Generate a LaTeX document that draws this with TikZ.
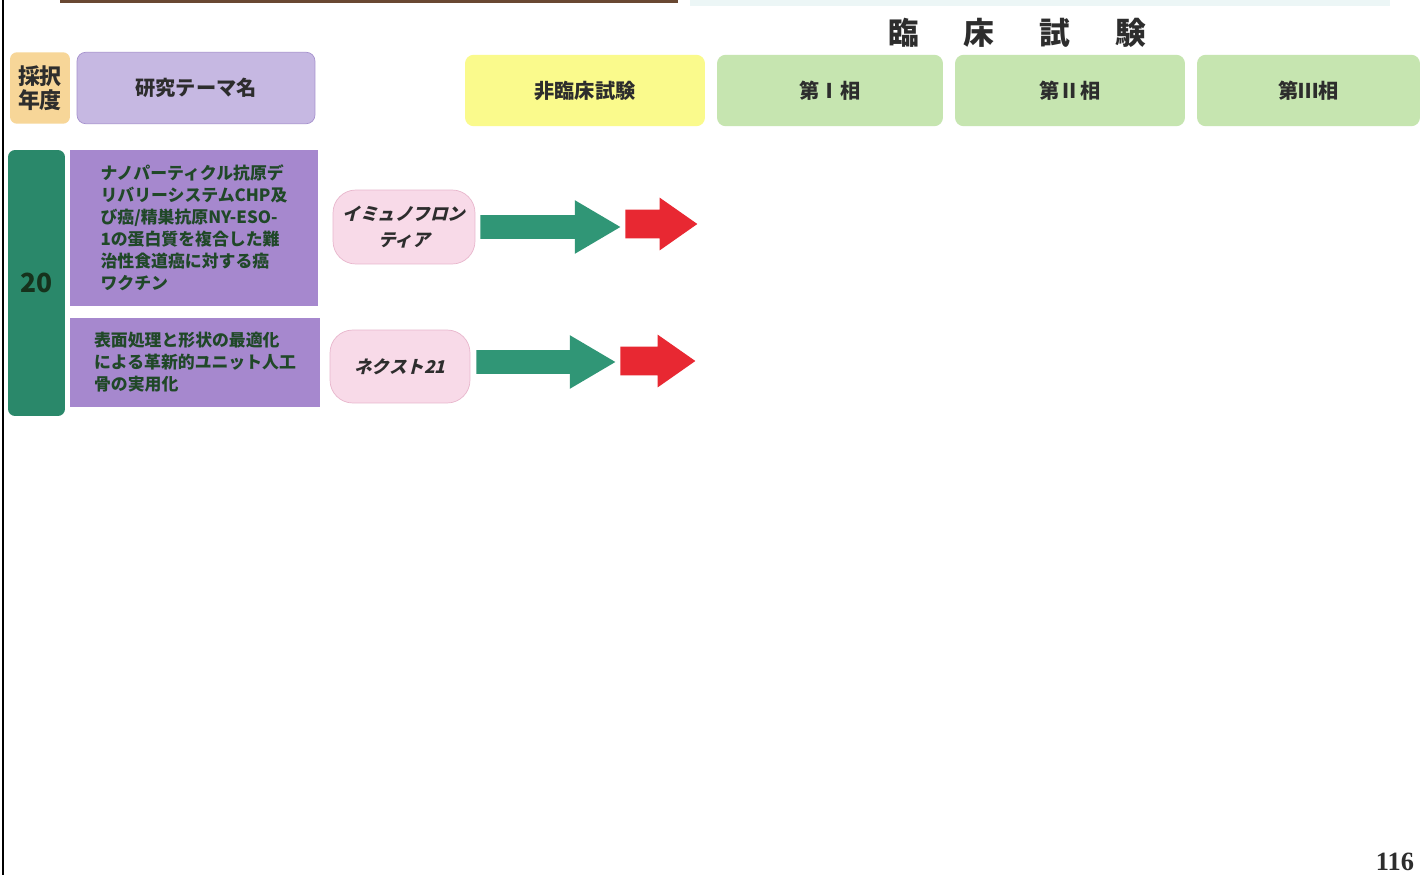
\documentclass[tikz,border=0pt]{standalone}
\usepackage{fontspec}
\setmainfont{Noto Sans CJK JP}
\newfontfamily\cofont{Noto Sans CJK JP}[FakeSlant=0.25, BoldFeatures={FakeSlant=0.25}]
\newfontfamily\pagefont{Liberation Serif}
\usetikzlibrary{shapes.arrows, positioning}
\definecolor{cYearHd}{RGB}{247,214,152}
\definecolor{cThemeHd}{RGB}{198,184,226}
\definecolor{cThemeHdLine}{RGB}{165,145,205}
\definecolor{cPre}{RGB}{250,250,140}
\definecolor{cPhase}{RGB}{198,229,176}
\definecolor{cYear}{RGB}{42,136,106}
\definecolor{cTheme}{RGB}{166,136,206}
\definecolor{cCo}{RGB}{248,218,232}
\definecolor{cCoLine}{RGB}{232,182,204}
\definecolor{cArrowG}{RGB}{48,150,118}
\definecolor{cArrowR}{RGB}{232,40,50}
\definecolor{cTxt}{RGB}{45,45,45}
\definecolor{cTxtG}{RGB}{32,72,40}
\definecolor{cBar}{RGB}{105,72,50}
\definecolor{cBand}{RGB}{236,246,246}
\tikzset{
	hdbox/.style   ={rectangle, rounded corners=5pt, minimum height=1.43cm, align=center, text=cTxt, font=\fontsize{11.5}{14}\selectfont\bfseries},
	themebox/.style={rectangle, fill=cTheme, align=left, text=cTxtG, font=\fontsize{9.6}{12.5}\selectfont\bfseries},
	cobox/.style   ={rectangle, rounded corners=13pt, fill=cCo, draw=cCoLine, align=center, text=cTxt, font=\cofont\fontsize{10}{14.5}\selectfont\bfseries},
	garrow/.style  ={single arrow, fill=cArrowG, inner xsep=0pt, inner ysep=0.23cm, minimum width=0pt, single arrow head extend=0.3cm, single arrow tip angle=61, anchor=west},
	rarrow/.style  ={single arrow, fill=cArrowR, inner xsep=0pt, inner ysep=0.28cm, minimum width=0pt, single arrow head extend=0.24cm, single arrow tip angle=70, anchor=west},
}
\begin{document}
\begin{tikzpicture}[x=0.02cm, y=-0.02cm]
	\useasboundingbox[fill=white] (0,0) rectangle (1423,875);
	\draw[black, line width=0.6pt] (3,0) -- (3,875);
	\fill[cBar] (60,0) rectangle (678,3);
	\fill[cBand] (690,0) rectangle (1390,6);

	\node[text=cTxt, font=\fontsize{17.5}{20}\selectfont\bfseries] (title) at (1017,33) {臨\hspace{0.9cm}床\hspace{0.9cm}試\hspace{0.9cm}験};

	\node[hdbox, fill=cYearHd, minimum width=1.2cm, rounded corners=4pt, font=\fontsize{12.5}{14}\selectfont\bfseries] (yearhd) at (40,88) {採択\\年度};
	\node[hdbox, fill=cThemeHd, draw=cThemeHdLine, minimum width=4.76cm] (themehd) at (196,88) {研究テーマ名};
	\node[hdbox, fill=cPre, minimum width=4.8cm] (pre) at (585,90.5) {非臨床試験};
	\node[hdbox, fill=cPhase, minimum width=4.52cm] (ph1) at (830,90.5) {第Ⅰ相};
	\node[hdbox, fill=cPhase, minimum width=4.6cm] (ph2) at (1070,90.5) {第Ⅱ相};
	\node[hdbox, fill=cPhase, minimum width=4.46cm] (ph3) at (1308.5,90.5) {第Ⅲ相};

	\node[rectangle, rounded corners=4pt, fill=cYear, minimum width=1.14cm, minimum height=5.32cm, text=cTxtG!70!black, font=\fontsize{15}{18}\selectfont\bfseries] (year) at (36.5,283) {20};

	\node[themebox, minimum width=4.96cm, minimum height=3.12cm] (theme1) at (194,228) {ナノパーティクル抗原デ\\リバリーシステムCHP及\\び癌/精巣抗原NY-ESO-\\1の蛋白質を複合した難\\治性食道癌に対する癌\\ワクチン};
	\node[themebox, minimum width=5.0cm, minimum height=1.78cm] (theme2) at (195,362.5) {表面処理と形状の最適化\\による革新的ユニット人工\\骨の実用化};

	\node[cobox, minimum width=2.84cm, minimum height=1.48cm] (co1) at (404,227) {イミュノフロン\\ティア};
	\node[cobox, minimum width=2.8cm, minimum height=1.46cm] (co2) at (400,366.5) {ネクスト21};

	\node[garrow, minimum height=2.8cm] (g1) at (480,227) {};
	\node[rarrow, minimum height=1.44cm] (r1) at (625,224) {};
	\node[garrow, minimum height=2.78cm] (g2) at (476,362) {};
	\node[rarrow, minimum height=1.5cm] (r2) at (620,361) {};

	\node[text=cTxt, font=\pagefont\fontsize{15}{17}\selectfont\bfseries] (page) at (1395,862) {116};
\end{tikzpicture}
\end{document}
